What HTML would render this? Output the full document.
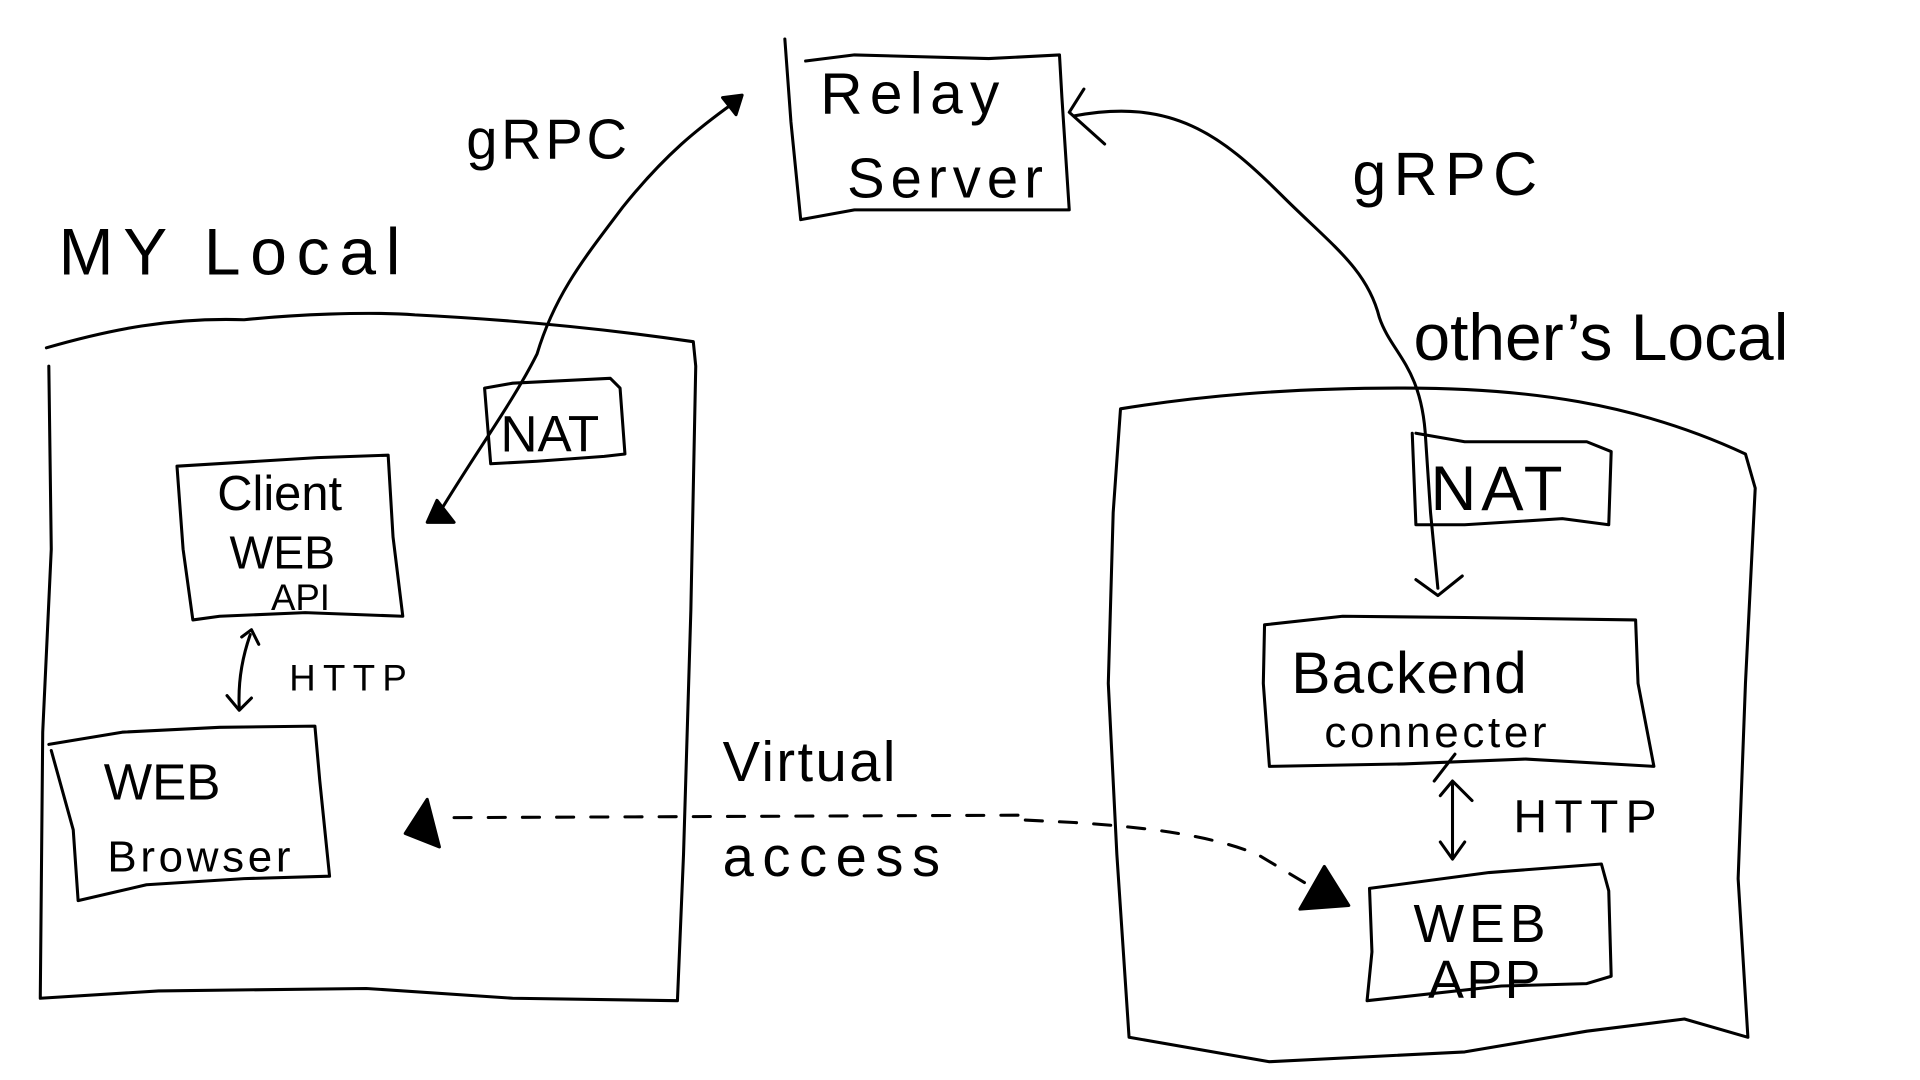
<!DOCTYPE html>
<html><head><style>html,body{margin:0;padding:0;background:#fff;}svg{display:block}</style></head>
<body>
<svg width="1920" height="1080" viewBox="0 0 1573 885" preserveAspectRatio="none" xmlns="http://www.w3.org/2000/svg">
<g fill="none" stroke="#000" stroke-width="2.5" stroke-linecap="round" stroke-linejoin="round">
<path d="M643,32 L648,100 L656,180 L700,172 L876,172 L870,80 L868,45 L810,48 L700,45 L660,50"/>
<path d="M38,285 C90,270 140,260 200,262 C240,258 300,255 340,258 C420,262 500,270 568,280 L570,300 L566,500 L560,700 L555,820 L420,818 L300,810 L130,812 L33,818 L35,600 L42,450 L40,300"/>
<path d="M397,318 L420,314 L500,310 L508,318 L512,372 L495,374 L440,378 L402,380 Z"/>
<path d="M145,382 L260,375 L318,373 L322,440 L330,505 L250,502 L180,505 L158,508 L150,450 Z"/>
<path d="M40,610 L100,600 L180,596 L258,595 L262,640 L270,718 L200,720 L120,725 L64,738 L60,680 L42,615"/>
<path d="M205,520 C198,540 195,560 196,580"/><path d="M198,522 L206,516 L212,528"/><path d="M186,570 L196,582 L206,572"/>
<path d="M357,425 C390,370 420,330 440,290 C455,240 480,210 510,170 C550,120 580,100 600,85"/>
<path d="M592,80 L608,78 L603,94 Z" fill="#000"/>
<path d="M350,428 L358,410 L372,428 Z" fill="#000"/>
<path d="M918,335 C980,325 1050,318 1150,318 C1250,318 1340,330 1430,372 L1438,400 L1430,560 L1424,720 L1432,850 L1380,835 L1300,845 L1200,862 L1040,870 L925,850 L915,700 L908,560 L912,420 Z"/>
<path d="M1157,355 L1160,430 L1200,430 L1280,425 L1318,430 L1320,370 L1300,362 L1200,362 L1160,355"/>
<path d="M1036,512 L1100,505 L1200,506 L1340,508 L1342,560 L1355,628 L1250,622 L1150,626 L1040,628 L1035,560 Z"/>
<path d="M1122,728 L1220,715 L1312,708 L1318,730 L1320,800 L1300,806 L1230,808 L1120,820 L1124,780 Z"/>
<path d="M880,95 C960,80 1000,110 1050,160 C1090,200 1120,220 1130,260 C1140,290 1165,300 1168,360 L1172,420 L1178,482"/>
<path d="M888,73 L876,92 L905,118"/>
<path d="M1160,475 L1178,488 L1198,472"/>
<path d="M1190,642 L1190,702"/><path d="M1180,652 L1190,640 L1206,656"/><path d="M1180,690 L1190,704 L1200,690"/>
<path d="M1175,640 L1192,618"/>
<path d="M372,670 L835,668 M840,672 L880,674 C940,678 990,684 1030,700 L1080,730" stroke-dasharray="14,14"/>
<path d="M332,683 L350,655 L360,694 Z" fill="#000"/>
<path d="M1065,745 L1085,710 L1105,742 Z" fill="#000"/>
</g>
<g font-family="Liberation Sans, sans-serif" fill="#000" font-weight="normal">
<text x="672" y="93" font-size="48" letter-spacing="6">Relay</text>
<text x="694" y="162" font-size="46" letter-spacing="5">Server</text>
<text x="382" y="130" font-size="46" letter-spacing="3">gRPC</text>
<text x="1108" y="160" font-size="50" letter-spacing="6">gRPC</text>
<text x="48" y="225" font-size="54" letter-spacing="8">MY Local</text>
<text x="1158" y="295" font-size="54" letter-spacing="0">other’s Local</text>
<text x="410" y="370" font-size="42">NAT</text>
<text x="1172" y="418" font-size="52" letter-spacing="4">NAT</text>
<text x="178" y="418" font-size="40">Client</text>
<text x="188" y="466" font-size="38">WEB</text>
<text x="222" y="500" font-size="30">API</text>
<text x="237" y="566" font-size="30" letter-spacing="6">HTTP</text>
<text x="85" y="655" font-size="42">WEB</text>
<text x="88" y="714" font-size="36" letter-spacing="3">Browser</text>
<text x="592" y="640" font-size="46" letter-spacing="2">Virtual</text>
<text x="592" y="718" font-size="46" letter-spacing="7">access</text>
<text x="1058" y="568" font-size="48" letter-spacing="1">Backend</text>
<text x="1085" y="612" font-size="36" letter-spacing="3">connecter</text>
<text x="1240" y="682" font-size="38" letter-spacing="6">HTTP</text>
<text x="1158" y="772" font-size="44" letter-spacing="4">WEB</text>
<text x="1170" y="818" font-size="44" letter-spacing="2">APP</text>
</g>
</svg>
</body></html>
